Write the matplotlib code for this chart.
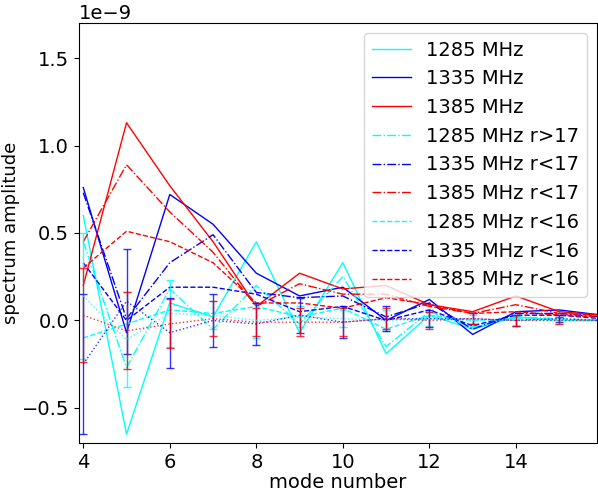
import matplotlib.pyplot as plt
import numpy as np

# numeros de modo
modos = np.arange(4, 17)

# espectros completos (unidades de 1e-9)
s1285 = [0.60, -0.65, 0.10, 0.02, 0.45, -0.07, 0.33, -0.19, 0.03, -0.05, 0.02, 0.00, 0.00]
s1335 = [0.76, -0.07, 0.72, 0.55, 0.27, 0.14, 0.19, 0.00, 0.12, -0.08, 0.05, 0.06, 0.03]
s1385 = [0.20, 1.13, 0.77, 0.45, 0.08, 0.27, 0.18, 0.20, 0.09, 0.05, 0.14, 0.05, 0.03]

# r>17 / r<17
s1285_r17 = [0.45, -0.27, 0.18, -0.05, 0.20, -0.02, 0.25, -0.15, 0.05, -0.04, 0.02, 0.01, 0.00]
s1335_r17 = [0.73, 0.01, 0.33, 0.49, 0.16, 0.13, 0.14, 0.02, 0.10, -0.05, 0.04, 0.04, 0.02]
s1385_r17 = [0.45, 0.89, 0.62, 0.39, 0.08, 0.21, 0.15, 0.15, 0.08, 0.04, 0.09, 0.04, 0.03]

# r<16
s1285_r16 = [-0.10, -0.02, 0.06, 0.04, 0.08, 0.02, 0.07, -0.05, 0.03, 0.00, 0.01, 0.00, 0.00]
s1335_r16 = [0.33, 0.00, 0.19, 0.19, 0.15, 0.05, 0.08, 0.00, 0.06, -0.03, 0.03, 0.03, 0.01]
s1385_r16 = [0.30, 0.51, 0.45, 0.33, 0.10, 0.10, 0.07, 0.13, 0.09, 0.04, 0.05, 0.03, 0.02]

# promedios con barras de error (lineas punteadas)
m1285 = [0.14, -0.11, 0.04, 0.03, 0.00, 0.02, 0.01, 0.00, 0.01, 0.00, 0.00, 0.00, 0.00]
e1285 = [0.36, 0.27, 0.19, 0.08, 0.10, 0.06, 0.05, 0.06, 0.04, 0.03, 0.03, 0.02, 0.02]
m1335 = [-0.25, 0.11, -0.07, 0.00, -0.02, 0.03, -0.01, 0.01, 0.01, 0.01, 0.00, 0.01, 0.00]
e1335 = [0.40, 0.30, 0.20, 0.15, 0.12, 0.10, 0.09, 0.07, 0.05, 0.03, 0.03, 0.02, 0.02]
m1385 = [0.03, -0.06, -0.02, 0.01, -0.01, -0.01, -0.01, 0.01, 0.00, 0.01, 0.00, 0.00, 0.00]
e1385 = [0.27, 0.22, 0.14, 0.10, 0.08, 0.08, 0.08, 0.06, 0.05, 0.03, 0.03, 0.02, 0.02]

escala = 1e-9
def sc(v):
    return np.array(v) * escala

plt.figure(figsize=(5.98, 4.91), dpi=100)
plt.rcParams['font.size'] = 14

plt.plot(modos, sc(s1285), color='cyan', lw=1, label='1285 MHz')
plt.plot(modos, sc(s1335), color='blue', lw=1, label='1335 MHz')
plt.plot(modos, sc(s1385), color='red', lw=1, label='1385 MHz')
plt.plot(modos, sc(s1285_r17), color='cyan', lw=1, ls='-.', label='1285 MHz r>17')
plt.plot(modos, sc(s1335_r17), color='blue', lw=1, ls='-.', label='1335 MHz r<17')
plt.plot(modos, sc(s1385_r17), color='red', lw=1, ls='-.', label='1385 MHz r<17')
plt.plot(modos, sc(s1285_r16), color='cyan', lw=1, ls='--', label='1285 MHz r<16')
plt.plot(modos, sc(s1335_r16), color='blue', lw=1, ls='--', label='1335 MHz r<16')
plt.plot(modos, sc(s1385_r16), color='red', lw=1, ls='--', label='1385 MHz r<16')

plt.errorbar(modos, sc(m1285), yerr=sc(e1285), color='cyan', ls=':', lw=1, capsize=3, alpha=0.8)
plt.errorbar(modos, sc(m1335), yerr=sc(e1335), color='blue', ls=':', lw=1, capsize=3, alpha=0.8)
plt.errorbar(modos, sc(m1385), yerr=sc(e1385), color='red', ls=':', lw=1, capsize=3, alpha=0.8)

plt.xlim(3.9, 15.87)
plt.ylim(-0.7e-9, 1.7e-9)
plt.xlabel('mode number', labelpad=1)
plt.ylabel('spectrum amplitude', fontsize=13, labelpad=1)
plt.legend(loc='upper right')
plt.subplots_adjust(left=0.132, right=0.998, top=0.953, bottom=0.098)

plt.savefig('out.png')
